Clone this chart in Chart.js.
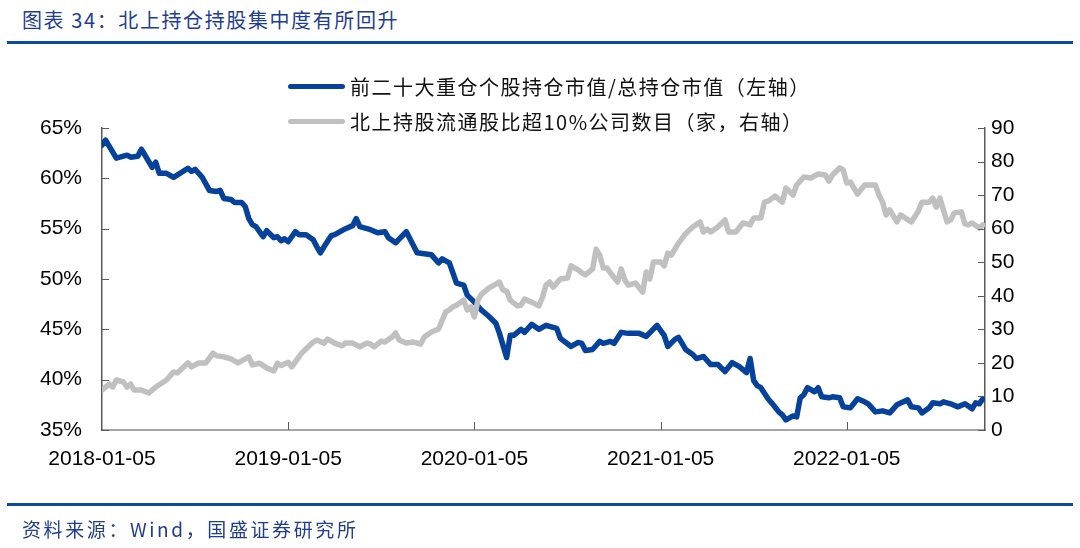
<!DOCTYPE html>
<html>
<head>
<meta charset="utf-8">
<script src="https://cdn.jsdelivr.net/npm/chart.js@4.4.1/dist/chart.umd.min.js"></script>
<style>
  html, body { margin: 0; padding: 0; background: #ffffff; }
  #wrap { position: relative; width: 1080px; height: 548px; overflow: hidden; background: #fff; }
  #c { position: absolute; left: 0; top: 0; }
  .title { position: absolute; left: 22px; top: 5px; font-family: "Noto Sans CJK SC", sans-serif; font-size: 20px; color: #1f3e8f; letter-spacing: 1.6px; white-space: nowrap; }
  .rule { position: absolute; left: 7px; width: 1066px; height: 3px; background: #0b4a9f; }
  .foot { position: absolute; left: 22px; top: 515px; font-family: "Noto Sans CJK SC", sans-serif; font-size: 19px; color: #1f3e8f; letter-spacing: 2.6px; white-space: nowrap; }
  .leg { position: absolute; left: 288px; height: 30px; display: flex; align-items: center; white-space: nowrap; }
  .leg .sw { width: 57px; height: 5px; border-radius: 3px; margin-right: 5px; }
  .leg .tx { font-family: "Noto Sans CJK SC", sans-serif; font-size: 20px; color: #111; letter-spacing: 1.5px; }
</style>
</head>
<body>
<div id="wrap">
  <div class="title">图表 34：北上持仓持股集中度有所回升</div>
  <div class="rule" style="top:41px"></div>
  <canvas id="c" width="1080" height="548"></canvas>
  <div class="leg" style="top:71px"><div class="sw" style="background:#06429b"></div><div class="tx">前二十大重仓个股持仓市值/总持仓市值（左轴）</div></div>
  <div class="leg" style="top:106px"><div class="sw" style="background:#c0c0c0"></div><div class="tx">北上持股流通股比超10%公司数目（家，右轴）</div></div>
  <div class="rule" style="top:503px"></div>
  <div class="foot">资料来源：Wind，国盛证券研究所</div>
</div>
<script>
// Weeks since 2018-01-05 and values
const blueWeeks = [0,1,4,7,8,10,11,14,15,16,18,20,24,25,26,28,30,32,33,34,36,37,39,40,41,42,43,45,46,48,49,50,51,52,54,55,57,59,60,61,62,64,65,68,70,71,72,74,75,77,79,80,82,85,88,92,94,95,97,99,101,102,104,106,108,110,111,113,114,115,117,118,120,122,124,127,128,131,133,134,135,137,139,140,142,143,145,147,150,152,155,157,158,160,161,163,165,166,168,170,172,174,176,178,180,181,182,183,184,186,187,189,190,191,193,194,195,196,197,199,200,201,203,204,206,207,209,211,213,214,216,218,220,222,225,226,228,229,231,232,234,235,237,239,241,243,244,245,246];
const blueValues = [63.3,63.8,62.0,62.3,62.1,62.2,62.9,61.1,61.6,60.5,60.5,60.1,61.0,60.7,60.9,60.1,58.8,58.7,58.8,58.0,57.9,57.6,57.6,57.2,56.0,55.4,55.2,54.2,54.8,54.1,54.2,53.8,54.0,53.7,54.7,54.4,54.4,53.9,53.2,52.6,53.2,54.3,54.4,55.0,55.3,56.0,55.2,55.0,54.9,54.6,54.7,54.1,53.6,54.7,52.6,52.4,51.6,52.0,51.6,49.6,49.4,48.4,47.7,46.9,46.3,45.6,44.6,42.2,44.4,44.4,45.0,44.7,45.5,45.0,45.4,45.1,44.1,43.3,43.7,43.6,42.9,43.0,43.8,43.6,43.8,43.6,44.7,44.6,44.6,44.3,45.4,44.4,43.3,44.0,44.2,43.0,42.5,42.1,42.3,41.5,41.5,40.8,41.7,41.3,40.7,42.1,39.9,39.4,39.2,38.1,37.7,36.8,36.5,36.0,36.4,36.3,38.2,38.5,39.2,38.8,39.2,38.3,38.2,38.3,38.2,37.3,37.2,38.1,37.8,37.6,36.8,36.9,36.7,37.5,38.0,37.3,37.2,36.7,37.2,37.7,37.6,37.8,37.6,37.3,37.6,37.1,37.7,37.6,38.1];

const greyWeeks = [0,2,3,4,6,7,8,9,11,13,15,18,20,21,24,25,27,29,31,32,34,36,38,40,41,42,44,46,48,49,50,52,53,55,56,59,60,62,63,65,67,68,70,72,74,75,76,78,79,81,82,83,85,87,89,90,92,94,96,97,98,99,101,102,103,104,105,106,108,110,111,112,113,114,116,117,118,120,122,123,124,125,126,128,130,131,133,134,135,137,138,139,140,141,142,144,145,146,147,149,151,152,153,154,156,157,158,159,161,163,164,165,167,168,169,170,172,174,175,177,179,181,182,184,185,186,188,190,191,193,194,196,198,200,202,203,204,206,207,208,209,211,213,216,217,218,219,220,222,223,226,228,229,231,232,233,234,236,237,238,240,241,242,243,245,246];
const greyValues = [11.9,13.7,12.8,14.9,14.3,12.8,13.7,11.9,11.9,11.0,12.8,14.9,17.3,17.0,20.0,18.8,20.0,20.0,22.9,22.1,21.8,21.2,20.0,21.2,21.8,19.4,19.9,18.5,17.6,19.9,19.2,20.2,18.8,21.8,23.2,26.2,26.8,25.9,27.1,25.9,25.1,25.9,25.9,24.8,25.9,25.6,24.8,26.5,26.2,27.7,28.9,26.8,25.9,26.2,25.6,27.7,29.2,30.1,35.2,35.8,36.7,37.2,38.7,35.8,36.7,33.7,38.7,40.5,42.3,43.5,44.1,41.7,41.4,38.7,37.0,37.2,39.0,38.1,37.0,39.5,43.2,44.1,42.6,45.0,45.3,48.9,47.7,46.8,46.2,48.0,53.9,52.1,48.3,48.3,46.8,44.1,48.0,44.7,43.2,43.8,41.1,47.1,45.0,50.1,50.1,48.9,52.7,52.1,55.7,58.5,59.5,60.5,62.0,59.0,59.9,59.0,60.5,62.6,59.0,59.0,61.7,61.1,63.2,63.2,67.9,68.2,69.7,67.9,72.1,70.0,73.0,75.4,75.1,76.3,76.0,74.2,76.0,78.1,77.5,73.6,73.9,70.3,73.0,73.0,70.0,67.9,64.1,65.6,62.0,64.1,62.0,65.3,67.9,67.9,69.1,66.4,69.1,62.0,62.6,64.7,65.0,61.4,61.1,61.7,60.2,61.1];

const tickWeeks = [0, 52, 104, 156, 208];
const tickLabels = ["2018-01-05", "2019-01-05", "2020-01-05", "2021-01-05", "2022-01-05"];

const toPts = (ws, vs) => ws.map((w, i) => ({ x: w, y: vs[i] }));

const innerTicks = {
  id: 'innerTicks',
  afterDraw(chart) {
    const { ctx, chartArea: a, scales } = chart;
    ctx.save();
    ctx.strokeStyle = '#595959';
    ctx.lineWidth = 1;
    ctx.beginPath();
    scales.y.ticks.forEach(t => {
      const y = Math.round(scales.y.getPixelForValue(t.value)) + 0.5;
      ctx.moveTo(a.left, y); ctx.lineTo(a.left + 7, y);
    });
    scales.y1.ticks.forEach(t => {
      const y = Math.round(scales.y1.getPixelForValue(t.value)) + 0.5;
      ctx.moveTo(a.right - 7, y); ctx.lineTo(a.right, y);
    });
    scales.x.ticks.forEach(t => {
      if (t.value === 0) return;
      const x = Math.round(scales.x.getPixelForValue(t.value)) + 0.5;
      ctx.moveTo(x, a.bottom); ctx.lineTo(x, a.bottom - 8);
    });
    ctx.stroke();
    ctx.restore();
  }
};

const tickFont = { family: 'Liberation Sans', size: 21 };

new Chart(document.getElementById('c'), {
  type: 'line',
  data: {
    datasets: [
      { label: '前二十大重仓个股持仓市值/总持仓市值（左轴）', data: toPts(blueWeeks, blueValues), yAxisID: 'y',
        borderColor: '#06429b', backgroundColor: '#06429b', borderWidth: 5.5, pointRadius: 0, tension: 0,
        borderJoinStyle: 'round', borderCapStyle: 'round', order: 1 },
      { label: '北上持股流通股比超10%公司数目（家，右轴）', data: toPts(greyWeeks, greyValues), yAxisID: 'y1',
        borderColor: '#c0c0c0', backgroundColor: '#c0c0c0', borderWidth: 5.5, pointRadius: 0, tension: 0,
        borderJoinStyle: 'round', borderCapStyle: 'round', order: 0 }
    ]
  },
  options: {
    responsive: false,
    animation: false,
    devicePixelRatio: 1,
    layout: { padding: { top: 128, left: 0, right: 0, bottom: 0 } },
    plugins: { legend: { display: false }, tooltip: { enabled: false } },
    scales: {
      x: {
        type: 'linear', position: 'bottom', min: 0, max: 246.6,
        afterFit(s) { s.height = 118; },
        afterBuildTicks(s) { s.ticks = tickWeeks.map(v => ({ value: v })); },
        ticks: { callback: v => tickLabels[tickWeeks.indexOf(v)], padding: 17, maxRotation: 0, autoSkip: false, color: '#000', font: tickFont },
        grid: { display: false, drawTicks: false },
        border: { display: true, color: '#a6a6a6', width: 2 }
      },
      y: {
        position: 'left', min: 35, max: 65,
        afterFit(s) { s.width = 102; },
        ticks: { stepSize: 5, callback: v => v + '%', padding: 20, color: '#000', font: tickFont },
        grid: { display: false, drawTicks: false },
        border: { display: true, color: '#595959', width: 1.5 }
      },
      y1: {
        position: 'right', min: 0, max: 90,
        afterFit(s) { s.width = 95; },
        ticks: { stepSize: 10, padding: 6, color: '#000', font: tickFont },
        grid: { display: false, drawTicks: false },
        border: { display: true, color: '#595959', width: 1.5 }
      }
    }
  },
  plugins: [innerTicks]
});
</script>
</body>
</html>
